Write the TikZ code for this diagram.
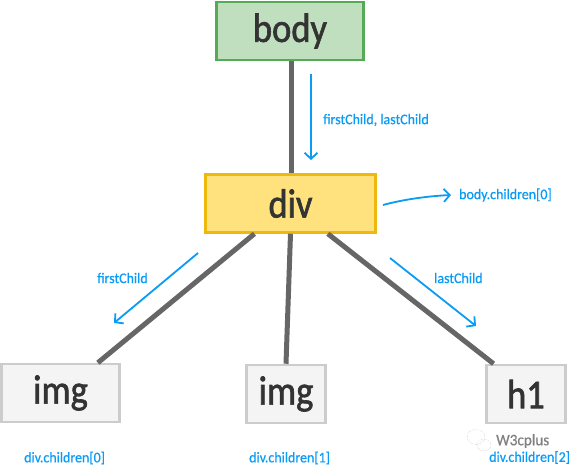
\documentclass[tikz,border=0pt]{standalone}
\usepackage{fontspec}
\setmainfont{Carlito}
\newfontfamily\tagfont[FakeStretch=0.89,FakeBold=1.5]{Carlito}
\newfontfamily\notefont[FakeStretch=0.95,FakeBold=0.6]{Carlito}
\usetikzlibrary{arrows.meta}
\definecolor{linkblue}{HTML}{0A9BF5}
\definecolor{edgegray}{HTML}{666666}
\definecolor{bodyfill}{HTML}{BFDFBF}
\definecolor{bodyline}{HTML}{55AA55}
\definecolor{divfill}{HTML}{FFE27D}
\definecolor{divline}{HTML}{EDB90E}
\definecolor{leaffill}{HTML}{F4F4F4}
\definecolor{leafline}{HTML}{CCCCCC}
\tikzset{
  tag/.style={draw, rectangle, line width=2.5pt, text=black!80, font=\tagfont\fontsize{41}{41}\selectfont, minimum height=58pt, inner sep=0pt},
  leaf/.style={tag, fill=leaffill, draw=leafline},
  edge/.style={draw=edgegray, line width=5pt},
  link/.style={draw=linkblue, line width=1.8pt, -{Straight Barb[length=6pt,width=13pt]}},
  note/.style={text=linkblue, font=\notefont\fontsize{14.7}{15}\selectfont, inner sep=0pt},
}
\begin{document}
\begin{tikzpicture}[x=1pt,y=-1pt]
\useasboundingbox (0,0) rectangle (571,468);

\draw[edge] (291,31) -- (291,203);

\node[tag, fill=bodyfill, draw=bodyline, minimum width=147pt] (body) at (290,31) {body};
\node[tag, fill=divfill, draw=divline, minimum width=170pt] (div) at (290.5,203.5) {div};
\node[leaf, minimum width=118pt] (imga) at (60.5,393) {img};
\node[leaf, minimum width=79pt] (imgb) at (286,394) {img};
\node[leaf, minimum width=79pt] (head) at (526,394) {h1};

\draw[edge] (div.220) -- (imga.39);
\draw[edge] (div.south) -- (imgb.north);
\draw[edge] (div.321) -- (head.137);

\coordinate (p1) at (311,74);
\coordinate (p2) at (311,160);
\coordinate (p3) at (383,205);
\coordinate (p4) at (451,195);
\coordinate (p5) at (198,253);
\coordinate (p6) at (114,323);
\coordinate (p7) at (390,258);
\coordinate (p8) at (476,326);

\draw[link] (p1) -- (p2);
\draw[link] (p3) .. controls (405,199) and (430,196) .. (p4);
\draw[link] (p5) -- (p6);
\draw[link] (p7) -- (p8);

\node[note, anchor=west] (n1) at (323,120) {firstChild, lastChild};
\node[note, anchor=west] (n2) at (459,195) {body.children[0]};
\node[note, anchor=west] (n3) at (97,278) {firstChild};
\node[note, anchor=west] (n4) at (434,278) {lastChild};
\node[note, anchor=west] (n5) at (24,458) {div.children[0]};
\node[note, anchor=west] (n6) at (249,458) {div.children[1]};

% watermark
\draw[black!30, densely dotted] (476,437) ellipse [x radius=9pt, y radius=7.5pt];
\draw[black!30, densely dotted] (484,445) ellipse [x radius=7pt, y radius=6pt];
\node[text=black!50, font=\notefont\fontsize{16}{16}\selectfont, inner sep=0pt, anchor=west] (mark) at (496,441) {W3cplus};
\node[note, anchor=west] (n7) at (489,457.5) {div.children[2]};
\end{tikzpicture}
\end{document}
